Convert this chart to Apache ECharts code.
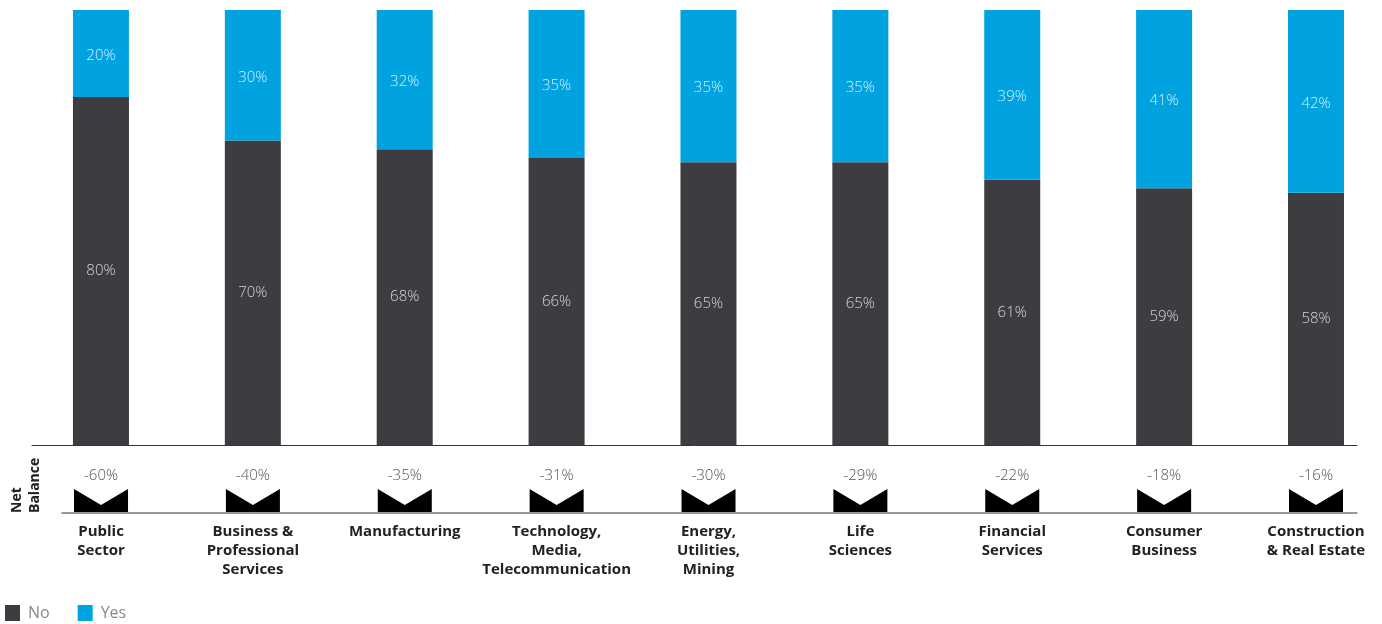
<!DOCTYPE html>
<html>
<head>
<meta charset="utf-8">
<script src="https://cdn.jsdelivr.net/npm/echarts@6/dist/echarts.min.js"></script>
<style>
  html, body { margin: 0; padding: 0; background: #fff; }
  #chart { width: 1382px; height: 624px; }
</style>
</head>
<body>
<div id="chart"></div>
<script>
// Sector labels (line breaks as set on the axis)
const categories = [
  'Public\nSector',
  'Business &\nProfessional\nServices',
  'Manufacturing',
  'Technology,\nMedia,\nTelecommunication',
  'Energy,\nUtilities,\nMining',
  'Life\nSciences',
  'Financial\nServices',
  'Consumer\nBusiness',
  'Construction\n& Real Estate'
];
// Share of respondents answering "No" / "Yes" (%)
const noValues  = [80, 70, 68, 66, 65, 65, 61, 59, 58];
const yesValues = [20, 30, 32, 35, 35, 35, 39, 41, 42];
// Net balance (%) per sector
const netBalance = [-60, -40, -35, -31, -30, -29, -22, -18, -16];

const FONT = '"Open Sans", "Noto Sans", sans-serif';
const idx = categories.map((_, i) => i);

// Rows are [share, sectorIndex]; the share column comes first so it is the one stacked.
const rows = values => values.map((v, i) => [v, i]);

const chart = echarts.init(document.getElementById('chart'), null, { renderer: 'canvas' });

chart.setOption({
  animation: false,
  backgroundColor: '#ffffff',
  textStyle: { fontFamily: FONT },
  grid: [
    // stacked bars
    { left: 32, right: 25, top: 10, bottom: 179 },
    // net balance markers and sector names
    { left: 62, right: 25, top: 489, bottom: 111 }
  ],
  xAxis: [
    {
      gridIndex: 0, type: 'value', min: -0.454, max: 8.27,
      axisLine: { show: true, onZero: false, lineStyle: { color: '#333', width: 1 } },
      axisTick: { show: false }, axisLabel: { show: false }, splitLine: { show: false }
    },
    {
      gridIndex: 1, type: 'value', min: -0.257, max: 8.27,
      axisLine: { show: true, onZero: false, lineStyle: { color: '#777', width: 1.5 } },
      axisTick: { show: false }, splitLine: { show: false },
      axisLabel: {
        show: true,
        customValues: idx,
        formatter: v => categories[Math.round(v)],
        margin: 9,
        fontFamily: FONT, fontSize: 15, fontWeight: 'bold', color: '#222', lineHeight: 19,
        verticalAlign: 'top'
      }
    }
  ],
  yAxis: [
    { gridIndex: 0, type: 'value', min: 0, max: 100, show: false },
    { gridIndex: 1, type: 'value', min: 0, max: 1, show: false }
  ],
  legend: {
    left: 5, top: 605, padding: 0,
    itemWidth: 15, itemHeight: 16, itemGap: 28,
    icon: 'rect',
    data: ['No', 'Yes'],
    textStyle: { color: '#888', fontSize: 16, fontFamily: FONT, padding: [0, 0, 0, 3] }
  },
  graphic: [
    {
      type: 'text',
      x: 8, y: 513,
      rotation: Math.PI / 2,
      style: {
        text: 'Net\nBalance',
        font: 'bold 14px ' + FONT,
        fill: '#222',
        align: 'left',
        verticalAlign: 'top',
        lineHeight: 18
      }
    }
  ],
  series: [
    {
      name: 'No', type: 'bar', stack: 'share',
      xAxisIndex: 0, yAxisIndex: 0,
      encode: { x: 1, y: 0 },
      barWidth: 56,
      itemStyle: { color: '#3c3c41' },
      data: rows(noValues),
      label: {
        show: true, position: 'inside',
        formatter: p => p.value[0] + '%',
        color: '#d6d6d6', fontSize: 15, fontWeight: 300, fontFamily: FONT
      }
    },
    {
      name: 'Yes', type: 'bar', stack: 'share',
      xAxisIndex: 0, yAxisIndex: 0,
      encode: { x: 1, y: 0 },
      barWidth: 56,
      itemStyle: { color: '#00a3e0' },
      data: rows(yesValues),
      label: {
        show: true, position: 'inside', offset: [0, 2],
        formatter: p => p.value[0] + '%',
        color: '#d2eefa', fontSize: 15, fontWeight: 300, fontFamily: FONT
      }
    },
    {
      name: 'Net Balance', type: 'custom',
      xAxisIndex: 1, yAxisIndex: 1,
      data: netBalance.map((v, i) => [i, v]),
      renderItem: (params, api) => {
        const i = api.value(0);
        const top = api.coord([i, 1]);
        const bottom = api.coord([i, 0]);
        const half = 27;
        const notchY = top[1] + (bottom[1] - top[1]) * 0.67;
        const cx = top[0];
        return {
          type: 'group',
          children: [
            {
              type: 'polygon',
              shape: {
                points: [
                  [cx - half, top[1]],
                  [cx, notchY],
                  [cx + half, top[1]],
                  [cx + half, bottom[1] - 1],
                  [cx - half, bottom[1] - 1]
                ]
              },
              style: { fill: '#000' }
            },
            {
              type: 'text',
              x: cx, y: top[1] - 13,
              style: {
                text: api.value(1) + '%',
                font: '300 15px ' + FONT,
                fill: '#555',
                align: 'center',
                verticalAlign: 'middle'
              }
            }
          ]
        };
      }
    }
  ]
});
</script>
</body>
</html>
